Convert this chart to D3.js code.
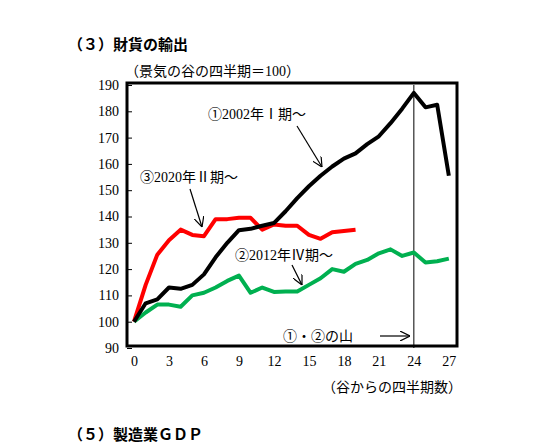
<!DOCTYPE html><html><head><meta charset="utf-8"><script src="https://d3js.org/d3.v7.min.js"></script>
<style>body{margin:0;background:#fff}</style></head><body><svg id="c" width="535" height="443"></svg>
<script>
const quarters = d3.range(0, 28);
const s1 = [100,107,108.5,113,112.5,114,118,124.5,130,134.8,135.3,136.5,137.5,142,147,151.5,155.5,159,162,164,167.5,170.5,175.5,181,187,181.5,182.5,155.5];
const s2 = [100,103.5,106.5,106.5,105.7,110,111,113,115.5,117.5,111,113,111.3,111.5,111.5,114,116.5,120,119,122,123.5,126,127.5,125,126.3,122.5,123,124];
const s3 = [100,114,125.5,131,135,133,132.5,139,139,139.5,139.5,135,137,136.5,136.5,133,131.5,134,134.5,135];
const yTicks = d3.range(90, 191, 10);
const xTicks = d3.range(0, 28, 3);
const svg = d3.select("#c");
const x = d3.scaleLinear().domain([-0.6, 27.7]).range([127, 457]);
const y = d3.scaleLinear().domain([90, 190]).range([348, 85]);
const serif = "'Liberation Serif','Noto Sans CJK JP',serif";
const jp = "'Noto Sans CJK JP',sans-serif";
svg.append("text").attr("x",68).attr("y",50).attr("font-family",jp).attr("font-weight","bold").attr("font-size",15).text("（３）財貨の輸出");
svg.append("text").attr("x",68).attr("y",440).attr("font-family",jp).attr("font-weight","bold").attr("font-size",15).text("（５）製造業ＧＤＰ");
svg.append("text").attr("x",125).attr("y",76).attr("font-family",serif).attr("font-size",14).text("（景気の谷の四半期＝100）");
svg.append("text").attr("x",462).attr("y",392).attr("text-anchor","end").attr("font-family",serif).attr("font-size",14).text("（谷からの四半期数）");
svg.append("g").attr("transform","translate(127,0)").call(d3.axisLeft(y).tickValues(yTicks).tickSize(5).tickSizeOuter(0))
  .call(g=>{g.select(".domain").remove();g.selectAll("line").attr("x2",5).attr("stroke","#000");g.selectAll("text").attr("x",-8).attr("font-family",serif).attr("font-size",14);});
svg.append("g").attr("transform","translate(0,348)").call(d3.axisBottom(x).tickValues(xTicks).tickSize(0))
  .call(g=>{g.select(".domain").remove();g.selectAll("text").attr("dy","1.1em").attr("font-family",serif).attr("font-size",14);});
svg.append("line").attr("x1",x(24)).attr("x2",x(24)).attr("y1",85).attr("y2",348).attr("stroke","#000").attr("stroke-width",1);
const line = d3.line().x((d,i)=>x(i)).y(d=>y(d));
[[s2,"#00b050"],[s3,"#ff0000"],[s1,"#000"]].forEach(([s,c])=>svg.append("path").attr("d",line(s)).attr("fill","none").attr("stroke",c).attr("stroke-width",4).attr("stroke-linejoin","round"));
svg.append("rect").attr("x",127).attr("y",83).attr("width",330).attr("height",263).attr("fill","none").attr("stroke","#000").attr("stroke-width",3);
const ann = (t,tx,ty,x1,y1,x2,y2)=>{svg.append("text").attr("x",tx).attr("y",ty).attr("font-family",serif).attr("font-size",14).text(t);
  svg.append("line").attr("x1",x1).attr("y1",y1).attr("x2",x2).attr("y2",y2).attr("stroke","#000").attr("stroke-width",1.2).attr("marker-end","url(#ar)");};
svg.append("defs").append("marker").attr("id","ar").attr("viewBox","0 0 10 10").attr("refX",10).attr("refY",5).attr("markerWidth",10).attr("markerHeight",10).attr("orient","auto").attr("markerUnits","userSpaceOnUse")
  .append("path").attr("d","M0,0L10,5L0,10").attr("fill","none").attr("stroke","#000").attr("stroke-width",1.2);
ann("①2002年Ⅰ期～",208,119,297,126,322,167);
ann("③2020年Ⅱ期～",140,182,190,189,202,227);
ann("②2012年Ⅳ期～",235,260,292,265,302,285);
ann("①・②の山",283,341,380,336,410,336);
</script></body></html>
